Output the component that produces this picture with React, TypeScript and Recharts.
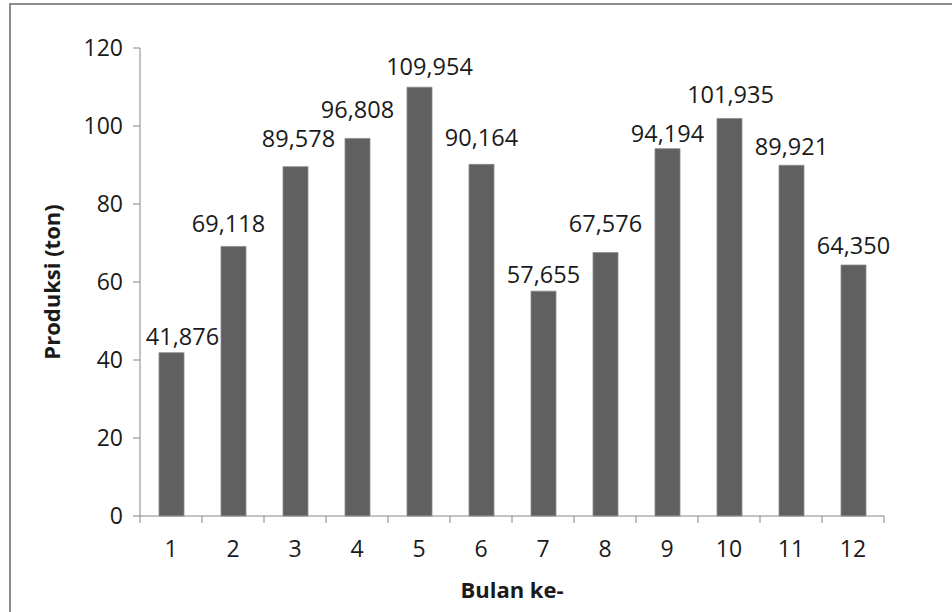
import React from 'react';
import { BarChart, Bar, XAxis, YAxis, LabelList } from 'recharts';

// production per month (ton), values as printed on the chart
const months = ['1', '2', '3', '4', '5', '6', '7', '8', '9', '10', '11', '12'];
const produksi = [41.876, 69.118, 89.578, 96.808, 109.954, 90.164, 57.655, 67.576, 94.194, 101.935, 89.921, 64.35];
const yTicks = [0, 20, 40, 60, 80, 100, 120];

// the labels in the source were nudged by hand so they don't collide
const labelGap = [8, 14, 20, 20, 12, 18, 8, 20, 7, 15, 10, 11];
const labelShift = [11, -5, 3, 0, 10, 0, 0, 0, 0, 1, 0, 0];

const FONT = '"Open Sans", sans-serif';
const AXIS = '#868686';
const TEXT = '#1a1a1a';

const W = 952;
const H = 612;
const PLOT_LEFT = 140;
const PLOT_RIGHT = 68;
const TICK_MARGIN = 25;
const BAND = (W - PLOT_LEFT - PLOT_RIGHT) / months.length;

const fmt = (v: number) => v.toFixed(3).replace('.', ',');

const renderValueLabel = (props: any) => {
    const { x, y, width, value, index } = props;
    return (
        <text
            x={x + width / 2 + labelShift[index]}
            y={y - labelGap[index]}
            textAnchor="middle"
            fill={TEXT}
            fontFamily={FONT}
            fontSize={23.5}
        >
            {fmt(value)}
        </text>
    );
};

// Excel puts the category tick marks between the bars, not under them
const renderMonthTick = (props: any) => {
    const { x, y, payload, index } = props;
    const axisY = y - TICK_MARGIN;
    const left = x - BAND / 2;
    return (
        <g>
            <line x1={left} x2={left} y1={axisY} y2={axisY + 7} stroke={AXIS} />
            {index === months.length - 1 && (
                <line x1={x + BAND / 2} x2={x + BAND / 2} y1={axisY} y2={axisY + 7} stroke={AXIS} />
            )}
            <text x={x} y={y} dy="0.71em" textAnchor="middle" fill={TEXT} fontFamily={FONT} fontSize={23}>
                {payload.value}
            </text>
        </g>
    );
};

export default function App() {
    const data = months.map((m, i) => ({ bulan: m, nilai: produksi[i] }));

    return (
        <div style={{ position: 'absolute', left: 0, top: 0, width: W, height: H, overflow: 'hidden', background: '#fff' }}>
            <div
                style={{
                    position: 'absolute',
                    left: 9,
                    top: 3,
                    width: 960,
                    height: 640,
                    border: '2px solid #8c8c8c',
                    boxSizing: 'border-box',
                }}
            />
            <div style={{ position: 'absolute', left: 0, top: 0 }}>
                <BarChart
                    width={W}
                    height={H}
                    data={data}
                    margin={{ top: 48, right: PLOT_RIGHT, bottom: 0, left: 0 }}
                    barSize={25}
                >
                    <XAxis
                        dataKey="bulan"
                        height={96}
                        axisLine={{ stroke: AXIS }}
                        tickLine={false}
                        tickSize={0}
                        tickMargin={TICK_MARGIN}
                        interval={0}
                        tick={renderMonthTick}
                        label={{
                            value: 'Bulan ke-',
                            position: 'insideBottom',
                            offset: 14,
                            fill: TEXT,
                            fontFamily: FONT,
                            fontSize: 22,
                            fontWeight: 'bold',
                        }}
                    />
                    <YAxis
                        width={PLOT_LEFT}
                        domain={[0, 120]}
                        ticks={yTicks}
                        tickSize={7}
                        tickMargin={10}
                        axisLine={{ stroke: AXIS }}
                        tickLine={{ stroke: AXIS }}
                        tick={{ fill: TEXT, fontFamily: FONT, fontSize: 23 }}
                        label={{
                            value: 'Produksi (ton)',
                            angle: -90,
                            position: 'insideLeft',
                            offset: 52,
                            style: { textAnchor: 'middle' },
                            fill: TEXT,
                            fontFamily: FONT,
                            fontSize: 22,
                            fontWeight: 'bold',
                        }}
                    />
                    <Bar dataKey="nilai" fill="#606060" stroke="#8a8a8a" strokeWidth={0.8} isAnimationActive={false}>
                        <LabelList dataKey="nilai" content={renderValueLabel} />
                    </Bar>
                </BarChart>
            </div>
        </div>
    );
}
